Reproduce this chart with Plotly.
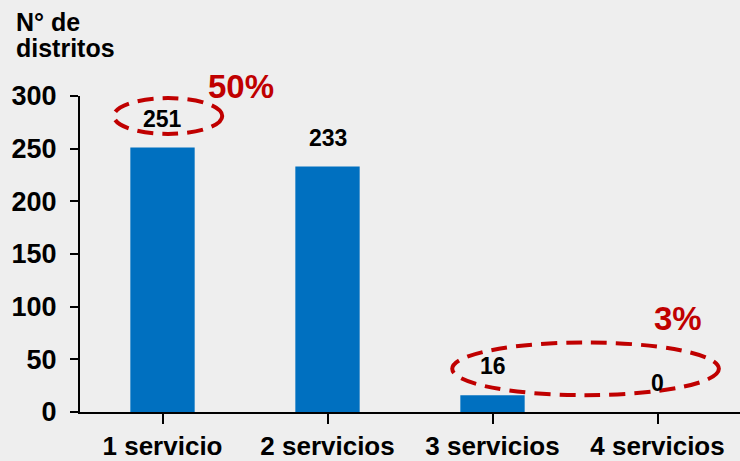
import plotly.graph_objects as go

categorias = ['1 servicio', '2 servicios', '3 servicios', '4 servicios']
distritos = [251, 233, 16, 0]
y_ticks = [0, 50, 100, 150, 200, 250, 300]

RED = '#C00000'
BLUE = '#0070C0'
FONT = 'Arial, Liberation Sans, sans-serif'

fig = go.Figure()
fig.add_trace(go.Bar(
    x=list(range(len(categorias))),
    y=distritos,
    width=0.39,
    marker=dict(color=BLUE, line=dict(width=0)),
    hoverinfo='skip',
))

# etiquetas de valor sobre las barras
for i, v in enumerate(distritos):
    fig.add_annotation(x=i, y=v, text='<b>%d</b>' % v, showarrow=False,
                       xref='x', yref='y', yanchor='middle', yshift=29,
                       font=dict(family=FONT, size=23, color='black'))

# elipses punteadas
ellipse_line = dict(color=RED, width=4, dash='16px,9px')
fig.add_shape(type='circle', xref='x', yref='y', x0=-0.295, x1=0.362,
              y0=264, y1=298, line=ellipse_line)
fig.add_shape(type='circle', xref='x', yref='y', x0=1.756, x1=3.372,
              y0=16, y1=66, line=ellipse_line)

fig.add_annotation(x=0.473, y=1.031, text='<b>50%</b>', showarrow=False,
                   xref='x', yref='paper', yanchor='middle',
                   font=dict(family=FONT, size=33, color=RED))
fig.add_annotation(x=3.127, y=0.295, text='<b>3%</b>', showarrow=False,
                   xref='x', yref='paper', yanchor='middle',
                   font=dict(family=FONT, size=33, color=RED))

# titulo del eje y
fig.add_annotation(x=0, y=1.233, xref='paper', yref='paper', xanchor='left',
                   yanchor='middle', xshift=-66, text='<b>N° de</b>', showarrow=False,
                   font=dict(family=FONT, size=25, color='black'))
fig.add_annotation(x=0, y=1.152, xref='paper', yref='paper', xanchor='left',
                   yanchor='middle', xshift=-66, text='<b>distritos</b>', showarrow=False,
                   font=dict(family=FONT, size=25, color='black'))

fig.update_layout(
    width=740, height=461,
    margin=dict(l=80, r=0, t=96, b=46),
    paper_bgcolor='#EEEEEE', plot_bgcolor='#EEEEEE',
    showlegend=False,
    font=dict(family=FONT, color='black'),
)
fig.update_xaxes(
    range=[-0.5, 3.5],
    tickmode='array',
    tickvals=list(range(len(categorias))),
    ticktext=['<b>%s</b>' % c for c in categorias],
    tickfont=dict(family=FONT, size=26, color='black'),
    showline=True, linecolor='black', linewidth=2,
    ticks='outside', ticklen=10, tickwidth=2, tickcolor='black',
    showgrid=False, zeroline=False,
)
fig.update_yaxes(
    range=[0, 300],
    tickmode='array',
    tickvals=y_ticks,
    ticktext=['<b>%d</b>' % t for t in y_ticks],
    tickfont=dict(family=FONT, size=27, color='black'),
    ticklabelstandoff=8,
    showline=True, linecolor='black', linewidth=2,
    ticks='outside', ticklen=8, tickwidth=2, tickcolor='black',
    showgrid=False, zeroline=False,
)

fig.write_html('out.html', config={'displayModeBar': False},
               post_script="document.body.style.margin='0';")
